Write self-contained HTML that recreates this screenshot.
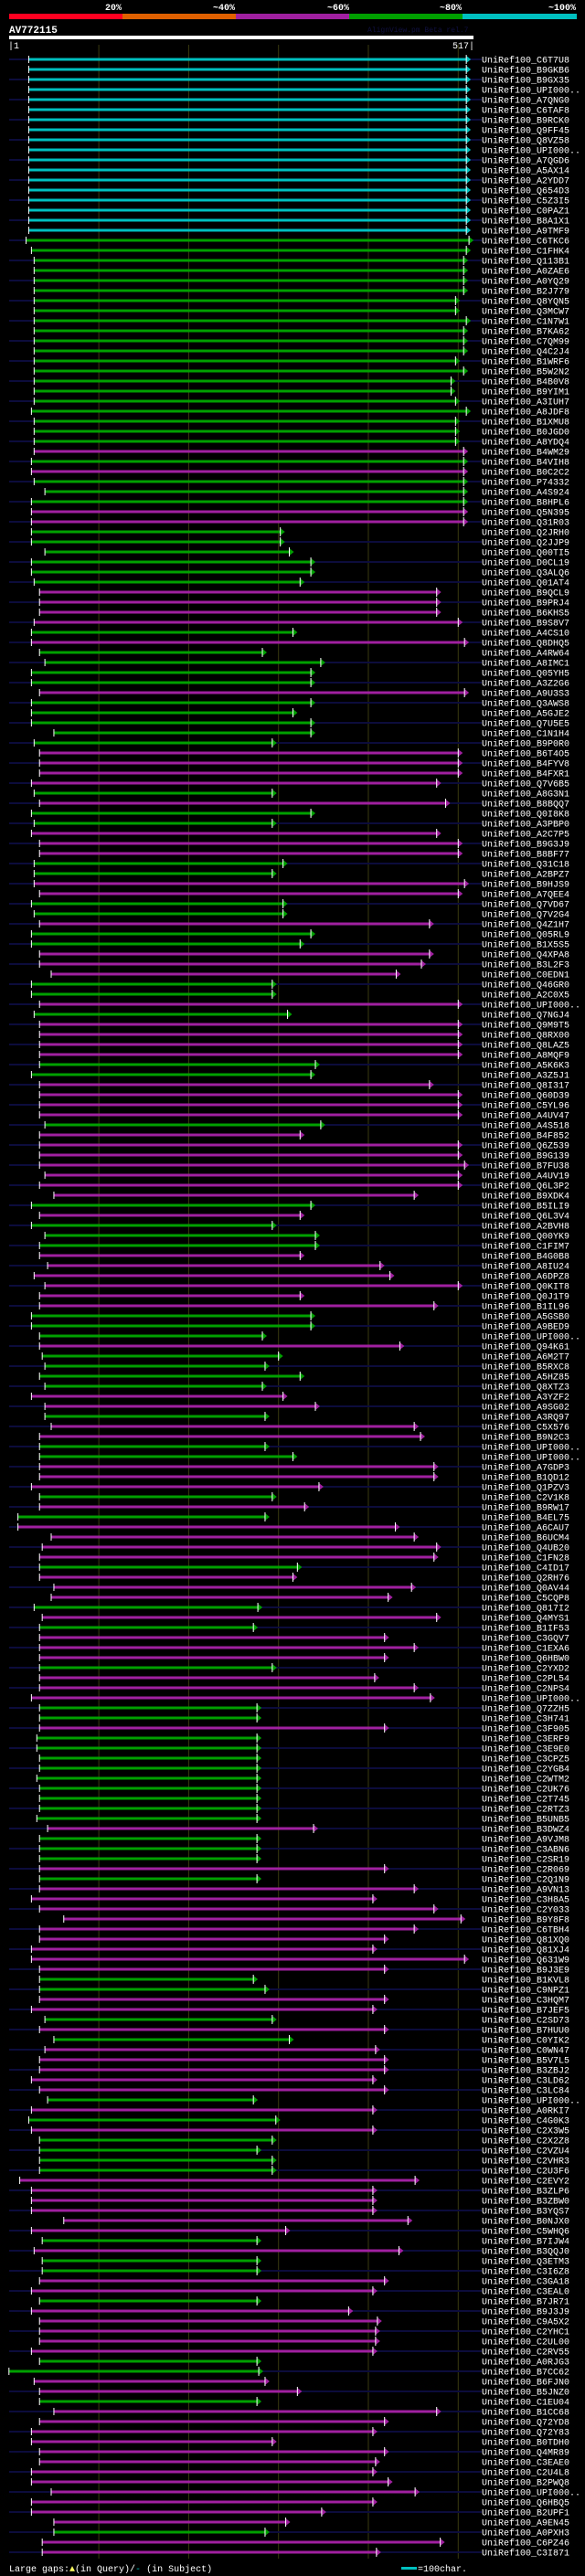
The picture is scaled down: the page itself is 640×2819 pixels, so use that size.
<!DOCTYPE html>
<html><head><meta charset="utf-8">
<style>
html,body{margin:0;padding:0;background:#000;}
body{width:640px;height:2819px;overflow:hidden;}
svg{display:block;}
text{font-family:"Liberation Mono","DejaVu Sans Mono",monospace;}
</style></head>
<body>
<svg id="chart" width="640" height="2819" viewBox="0 0 640 2819" xmlns="http://www.w3.org/2000/svg">
  <rect x="0" y="0" width="640" height="2819" fill="#000"/>
  <g>
    <rect x="10" y="15" width="124" height="6" fill="#ff0020"/>
    <rect x="134" y="15" width="124" height="6" fill="#e06000"/>
    <rect x="258" y="15" width="124" height="6" fill="#a020a0"/>
    <rect x="382" y="15" width="124" height="6" fill="#00a000"/>
    <rect x="506" y="15" width="125" height="6" fill="#00c0c0"/>
    <g fill="#fff" font-size="10" font-weight="bold" text-anchor="end">
      <text x="133" y="11">20%</text>
      <text x="257" y="11">~40%</text>
      <text x="382" y="11">~60%</text>
      <text x="505" y="11">~80%</text>
      <text x="630" y="11">~100%</text>
    </g>
  </g>
  <text x="10" y="36" fill="#fff" font-size="11" font-weight="bold">AV772115</text>
  <text x="402" y="35" fill="#101040" font-size="8">AlignView.pm Beta rel.7</text>
  <rect x="10" y="39" width="508" height="4" fill="#fff"/>
  <text x="9" y="53" fill="#fff" font-size="10">|1</text>
  <text x="519" y="53" fill="#fff" font-size="10" text-anchor="end">517|</text>
  <g id="grid"></g>
  <g id="rows"></g>
  <g>
    <text x="10" y="2814" fill="#fff" font-size="10">Large gaps:<tspan fill="#ffff60">▲</tspan>(in Query)/<tspan fill="#00c0c0">-</tspan> (in Subject)</text>
    <rect x="439" y="2809" width="17" height="3" fill="#00c0c0"/>
    <text x="457" y="2814" fill="#fff" font-size="10">=100char.</text>
  </g>
</svg>
<script>
const names = "C6T7U8 B9GKB6 B9GX35 UPI000.. A7QNG0 C6TAF8 B9RCK0 Q9FF45 Q8VZ58 UPI000.. A7QGD6 A5AX14 A2YDD7 Q654D3 C5Z3I5 C0PAZ1 B8A1X1 A9TMF9 C6TKC6 C1FHK4 Q113B1 A0ZAE6 A0YQ29 B2J779 Q8YQN5 Q3MCW7 C1N7W1 B7KA62 C7QM99 Q4C2J4 B1WRF6 B5W2N2 B4B0V8 B9YIM1 A3IUH7 A8JDF8 B1XMU8 B0JGD0 A8YDQ4 B4WM29 B4VIH8 B0C2C2 P74332 A4S924 B8HPL6 Q5N395 Q31R03 Q2JRH0 Q2JJP9 Q00TI5 D0CL19 Q3ALQ6 Q01AT4 B9QCL9 B9PRJ4 B6KHS5 B9S8V7 A4CS10 Q8DHQ5 A4RW64 A8IMC1 Q05YH5 A3Z2G6 A9U3S3 Q3AWS8 A5GJE2 Q7U5E5 C1N1H4 B9P0R0 B6T4O5 B4FYV8 B4FXR1 Q7V6B5 A8G3N1 B8BQQ7 Q0I8K8 A3PBP0 A2C7P5 B9G3J9 B8BF77 Q31C18 A2BPZ7 B9HJS9 A7QEE4 Q7VD67 Q7V2G4 Q4Z1H7 Q05RL9 B1X5S5 Q4XPA8 B3L2F3 C0EDN1 Q46GR0 A2C0X5 UPI000.. Q7NGJ4 Q9M9T5 Q8RX00 Q8LAZ5 A8MQF9 A5K6K3 A3Z5J1 Q8I317 Q60D39 C5YL96 A4UV47 A4S518 B4F852 Q6Z539 B9G139 B7FU38 A4UV19 Q6L3P2 B9XDK4 B5ILI9 Q6L3V4 A2BVH8 Q00YK9 C1FIM7 B4G0B8 A8IU24 A6DPZ8 Q0KIT8 Q0J1T9 B1IL96 A5GSB0 A9BED9 UPI000.. Q94K61 A6M2T7 B5RXC8 A5HZ85 Q8XTZ3 A3YZF2 A9SG02 A3RQ97 C5X576 B9N2C3 UPI000.. UPI000.. A7GDP3 B1QD12 Q1PZV3 C2V1K8 B9RW17 B4EL75 A6CAU7 B6UCM4 Q4UB20 C1FN28 C4ID17 Q2RH76 Q0AV44 C5CQP8 Q817I2 Q4MYS1 B1IF53 C3GQV7 C1EXA6 Q6HBW0 C2YXD2 C2PL54 C2NPS4 UPI000.. Q7ZZH5 C3H741 C3F905 C3ERF9 C3E9E0 C3CPZ5 C2YGB4 C2WTM2 C2UK76 C2T745 C2RTZ3 B5UNB5 B3DWZ4 A9VJM8 C3ABN6 C2SR19 C2R069 C2Q1N9 A9VN13 C3H8A5 C2Y033 B9Y8F8 C6TBH4 Q81XQ0 Q81XJ4 Q631W9 B9J3E9 B1KVL8 C9NPZ1 C3HQM7 B7JEF5 C2SD73 B7HUU0 C0YIK2 C0WN47 B5V7L5 B3ZBJ2 C3LD62 C3LC84 UPI000.. A0RKI7 C4G0K3 C2X3W5 C2X2Z8 C2VZU4 C2VHR3 C2U3F6 C2EVY2 B3ZLP6 B3ZBW0 B3YQS7 B0NJX0 C5WHQ6 B7IJW4 B3QQJ0 Q3ETM3 C3I6Z8 C3GA18 C3EAL0 B7JR71 B9J3J9 C9A5X2 C2YHC1 C2UL00 C2RV55 A0RJG3 B7CC62 B6FJN0 B5JNZ0 C1EU04 B1CC68 Q72YD8 Q72Y83 B0TDH0 Q4MR89 C3EAE0 C2U4L8 B2PWQ8 UPI000.. Q6HBQ5 B2UPF1 A9EN45 A0PXH3 C6PZ46 C3I871".split(" ");
const identity = (
  "cccccccccccccccccc" +
  "ggggggggggggggggggggg" +
  "pgpgggpp" +
  "gggggg" +
  "pppp" +
  "gpggggpgggggppppgpg" +
  "gpppggppggpggpppggpgppppggpp" +
  "ppgpppppppgpgggppppppgggpggg" +
  "gppgppggpppgpgppppgpppgpgppp" +
  "gpppggp" + "ggggggggg" + "pgggpgppppp" +
  "ppppggppgpgpppppgpgpggggpppp" +
  "ppgpggppgpppppggppgppppppppppppgpp"
).split("");
const starts = [22,22,22,22,22,22,22,22,22,22,22,22,22,22,22,22,22,22,19,25,28,28,28,28,28,28,28,28,28,28,28,28,28,28,28,25,28,28,28,28,25,25,28,40,25,25,25,25,25,40,25,25,28,34,34,34,28,25,25,34,40,25,25,34,25,25,25,50,28,34,34,34,25,28,34,25,28,25,34,34,28,28,28,34,25,28,34,25,25,34,34,47,25,25,34,28,34,34,34,34,34,25,34,34,34,34,40,34,34,34,34,40,34,50,25,34,25,40,34,34,43,28,40,34,34,25,25,34,34,37,40,34,40,25,40,40,47,34,34,34,34,34,25,34,34,10,10,47,37,34,34,34,50,47,28,37,34,34,34,34,34,34,34,25,34,34,34,31,31,34,34,31,34,34,34,31,43,34,34,34,34,34,34,25,34,61,34,34,25,25,34,34,34,34,25,40,34,50,40,34,34,25,34,43,25,22,25,34,34,34,34,12,25,25,25,61,25,37,28,37,37,34,25,34,25,34,34,34,25,34,0,28,34,34,50,34,25,25,34,34,25,25,47,25,25,50,50,37,37];
const ends = [509,509,509,509,509,509,509,509,509,509,509,509,509,509,509,509,509,509,512,509,506,506,506,506,497,497,509,506,506,506,497,506,492,492,497,509,497,497,497,506,506,506,506,506,506,506,506,302,302,312,336,336,324,476,476,476,500,316,507,282,347,336,336,507,336,316,336,336,293,500,500,500,476,293,486,336,293,476,500,500,305,293,507,500,305,305,468,336,324,468,459,431,293,293,500,310,500,500,500,500,341,336,468,500,500,500,347,324,500,500,507,500,500,451,336,324,293,341,341,324,413,424,500,324,473,336,336,282,435,300,285,324,282,305,341,285,451,458,285,316,473,473,345,293,329,285,430,451,476,473,321,316,448,422,277,476,272,418,451,418,293,407,451,469,276,276,418,276,276,276,276,276,276,276,276,276,339,276,276,276,418,276,451,405,473,503,451,418,405,507,418,272,285,418,405,293,418,312,408,418,418,405,418,272,405,297,405,293,276,293,293,452,405,405,405,444,308,276,434,276,276,418,405,276,378,410,408,408,405,276,278,285,321,276,476,418,405,293,418,408,405,422,452,405,348,308,285,480,409];
const subjectExtends = names.map(function(_, i){ return (i % 2 === 0) ? 1 : 0; });
const gridTicks = [100,200,300,400,500];

const QLEN = 517;
const COLORS = {c:"#00c0c0", g:"#00a000", p:"#a020a0"};
function xScale(pos){ return 9.8 + pos * (508.2 / QLEN); }
function yScale(i){ return 65 + i * 11.0; }

const NS = "http://www.w3.org/2000/svg";
function mk(tag, attrs){ const e = document.createElementNS(NS, tag); for (const k in attrs) e.setAttribute(k, attrs[k]); return e; }

const grid = document.getElementById("grid");
gridTicks.forEach(function(t){
  const l = mk("line", {x1: xScale(t), x2: xScale(t), y1: 49, y2: 2800, stroke: "#3a3a10", "stroke-width": 1});
  
  
  grid.appendChild(l);
});

const rowsG = document.getElementById("rows");
names.forEach(function(n, i){
  const y = yScale(i);
  const g = mk("g", {});
  
  
  const col = COLORS[identity[i]] || COLORS.p;
  const x0 = xScale(starts[i]), x1 = xScale(ends[i]);
  if (subjectExtends[i]) {
    const bg = mk("rect", {x: 10, y: y - 1, width: 517, height: 2, fill: "#0c0c3c"});
    
    
    g.appendChild(bg);
  }
  const bar = mk("rect", {x: x0, y: y - 1.5, width: x1 - x0, height: 3, fill: col});
  
  
  g.appendChild(bar);
  const tick = mk("rect", {x: x0 - 0.5, y: y - 4, width: 1, height: 8, fill: "#fff"});
  
  
  g.appendChild(tick);
  const arr = mk("polygon", {points: x1 + "," + (y - 4) + " " + (x1 + 5) + "," + y + " " + x1 + "," + (y + 4), fill: col});
  
  
  g.appendChild(arr);
  const edge = mk("rect", {x: x1 - 0.5, y: y - 5, width: 1, height: 10, fill: "#fff"});
  
  
  g.appendChild(edge);
  const t = mk("text", {x: 527, y: y + 3.5, fill: "#fff", "font-size": 10});
  t.textContent = "UniRef100_" + n;
  
  
  g.appendChild(t);
  rowsG.appendChild(g);
});
</script>
</body></html>
